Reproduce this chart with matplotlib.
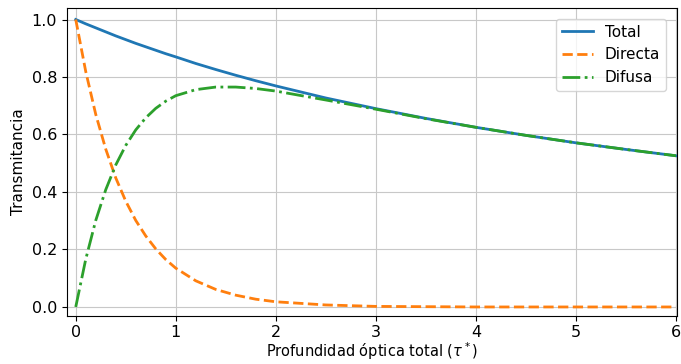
import matplotlib
matplotlib.use("Agg")
import matplotlib.pyplot as plt

tau = [0, 0.1, 0.2, 0.3, 0.4, 0.5, 0.6, 0.7, 0.8, 0.9, 1.0, 1.2, 1.4, 1.6, 1.8, 2.0,
       2.5, 3.0, 3.5, 4.0, 4.5, 5.0, 5.5, 6.0]
total = [1.0, 0.985, 0.971, 0.957, 0.943, 0.930, 0.917, 0.905, 0.893, 0.881, 0.870,
         0.847, 0.826, 0.806, 0.787, 0.769, 0.727, 0.690, 0.656, 0.625, 0.597, 0.571,
         0.548, 0.526]
directa = [1.0, 0.819, 0.670, 0.549, 0.449, 0.368, 0.301, 0.247, 0.202, 0.165, 0.135,
           0.091, 0.061, 0.041, 0.027, 0.018, 0.007, 0.002, 0.001, 0.0, 0.0, 0.0, 0.0, 0.0]
difusa = [0.0, 0.166, 0.301, 0.408, 0.494, 0.562, 0.616, 0.658, 0.691, 0.716, 0.735,
          0.756, 0.765, 0.765, 0.760, 0.751, 0.720, 0.688, 0.655, 0.625, 0.597, 0.571,
          0.548, 0.526]

fig = plt.figure(figsize=(6.81, 3.64), dpi=100)
ax = fig.add_axes([0.098, 0.133, 0.896, 0.845])
ax.plot(tau, total, color="#1f77b4", lw=2, label="Total")
ax.plot(tau, directa, color="#ff7f0e", lw=2, ls="--", label="Directa")
ax.plot(tau, difusa, color="#2ca02c", lw=2, ls="-.", label="Difusa")
ax.set_xlim(-0.09, 6.01)
ax.set_ylim(-0.03, 1.04)
ax.set_xticks([0, 1, 2, 3, 4, 5, 6])
ax.set_yticks([0.0, 0.2, 0.4, 0.6, 0.8, 1.0])
ax.tick_params(labelsize=11.5)
ax.grid(True, color="#c8c8c8")
ax.set_xlabel(r"Profundidad óptica total ($\tau^*$)", fontsize=10.5, labelpad=0)
ax.set_ylabel("Transmitancia", fontsize=11)
ax.legend(loc="upper right", fontsize=11, borderaxespad=0.7)
fig.savefig("out.png", dpi=100)
